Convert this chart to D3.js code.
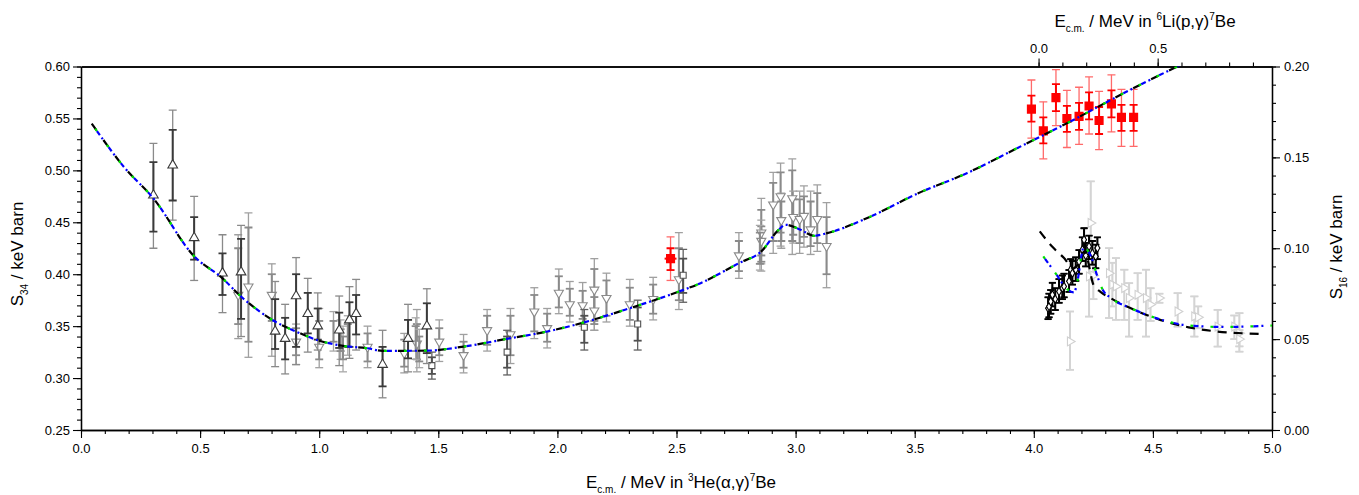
<!DOCTYPE html>
<html>
<head>
<meta charset="utf-8">
<script src="https://cdn.jsdelivr.net/npm/d3@7"></script>
<style>
  body { margin: 0; background: #fff; }
  text { font-family: "Liberation Sans", Arial, sans-serif; }
  .axis .domain { stroke: #000; stroke-width: 1.3; }
  .axis line { stroke: #000; stroke-width: 1.1; }
  .axis text { font-size: 13px; fill: #000; font-family: "Liberation Sans", Arial, sans-serif; }
</style>
</head>
<body>
<svg id="chart" width="1359" height="495"></svg>
<script>
// tick labels
const bottomTicks = [0, 0.5, 1.0, 1.5, 2.0, 2.5, 3.0, 3.5, 4.0, 4.5, 5.0];
const leftTicks = [0.25, 0.30, 0.35, 0.40, 0.45, 0.50, 0.55, 0.60];
const rightTicks = [0.00, 0.05, 0.10, 0.15, 0.20];
const topTicks = [0.0, 0.5];
const topMinorTicks = [0.0, 0.1, 0.2, 0.3, 0.4, 0.5, 0.6, 0.7, 0.8, 0.9];

// S34 data: [E, S, innerLo, innerHi, outerLo, outerHi]
const triUpPts = [
  [0.304, 0.476, 0.441, 0.508, 0.425, 0.526],
  [0.385, 0.505, 0.471, 0.539, 0.452, 0.558],
  [0.475, 0.435, 0.414, 0.455, 0.394, 0.475],
  [0.594, 0.401, 0.380, 0.420, 0.363, 0.438],
  [0.672, 0.402, 0.357, 0.434, 0.340, 0.447],
  [0.815, 0.345, 0.328, 0.376, 0.311, 0.393],
  [0.857, 0.338, 0.318, 0.358, 0.304, 0.371],
  [0.903, 0.379, 0.330, 0.400, 0.313, 0.416],
  [0.952, 0.362, 0.343, 0.382, 0.325, 0.396],
  [0.994, 0.350, 0.337, 0.367, 0.327, 0.382],
  [1.084, 0.346, 0.329, 0.363, 0.312, 0.379],
  [1.127, 0.356, 0.330, 0.373, 0.319, 0.388],
  [1.155, 0.362, 0.342, 0.380, 0.327, 0.395],
  [1.266, 0.313, 0.292, 0.330, 0.281, 0.346],
  [1.373, 0.338, 0.319, 0.356, 0.306, 0.371],
  [1.452, 0.350, 0.324, 0.372, 0.314, 0.386]
];

const triDownPts = [
  [0.660, 0.380, 0.352, 0.425, 0.338, 0.438],
  [0.703, 0.388, 0.335, 0.445, 0.320, 0.459],
  [0.801, 0.380, 0.355, 0.400, 0.321, 0.410],
  [0.903, 0.335, 0.322, 0.348, 0.313, 0.352],
  [1.000, 0.330, 0.318, 0.355, 0.310, 0.367],
  [1.203, 0.330, 0.316, 0.343, 0.310, 0.350],
  [1.357, 0.324, 0.311, 0.337, 0.305, 0.343],
  [1.410, 0.333, 0.318, 0.352, 0.306, 0.366],
  [1.504, 0.335, 0.322, 0.348, 0.316, 0.356],
  [1.606, 0.322, 0.310, 0.335, 0.305, 0.342],
  [1.705, 0.346, 0.332, 0.360, 0.326, 0.366],
  [1.803, 0.342, 0.322, 0.360, 0.314, 0.367],
  [1.903, 0.364, 0.345, 0.380, 0.338, 0.387],
  [1.957, 0.348, 0.335, 0.362, 0.329, 0.367],
  [2.006, 0.382, 0.368, 0.398, 0.362, 0.405],
  [2.052, 0.371, 0.360, 0.386, 0.354, 0.393],
  [2.106, 0.370, 0.357, 0.384, 0.350, 0.392],
  [2.155, 0.385, 0.355, 0.405, 0.346, 0.415],
  [2.155, 0.365, 0.352, 0.378, 0.346, 0.385],
  [2.206, 0.377, 0.360, 0.394, 0.354, 0.401],
  [2.304, 0.371, 0.356, 0.387, 0.350, 0.395],
  [2.402, 0.376, 0.362, 0.390, 0.356, 0.397],
  [2.510, 0.395, 0.375, 0.425, 0.366, 0.440],
  [2.762, 0.418, 0.403, 0.432, 0.396, 0.440],
  [2.856, 0.440, 0.412, 0.462, 0.403, 0.473],
  [2.856, 0.432, 0.418, 0.446, 0.410, 0.452],
  [2.906, 0.467, 0.432, 0.488, 0.420, 0.498],
  [2.937, 0.475, 0.440, 0.498, 0.427, 0.507],
  [2.940, 0.452, 0.432, 0.470, 0.425, 0.478],
  [2.986, 0.473, 0.432, 0.500, 0.419, 0.511],
  [2.990, 0.455, 0.438, 0.472, 0.430, 0.480],
  [3.017, 0.453, 0.430, 0.472, 0.420, 0.480],
  [3.035, 0.456, 0.436, 0.475, 0.426, 0.485],
  [3.063, 0.443, 0.427, 0.470, 0.419, 0.480],
  [3.091, 0.453, 0.430, 0.478, 0.422, 0.486],
  [3.130, 0.427, 0.400, 0.455, 0.387, 0.469]
];

const squarePts = [
  [1.473, 0.312, 0.304, 0.320, 0.299, 0.325],
  [1.789, 0.325, 0.310, 0.340, 0.303, 0.346],
  [2.113, 0.349, 0.334, 0.360, 0.327, 0.366],
  [2.337, 0.352, 0.336, 0.368, 0.327, 0.375],
  [2.528, 0.399, 0.382, 0.415, 0.373, 0.424]
];

const crossPts = [
  [1.060, 0.345, 0.335, 0.355, 0.326, 0.364],
  [1.090, 0.336, 0.326, 0.347, 0.318, 0.356],
  [1.100, 0.330, 0.318, 0.340, 0.306, 0.350],
  [1.120, 0.340, 0.330, 0.352, 0.322, 0.360],
  [1.405, 0.338, 0.326, 0.350, 0.318, 0.358],
  [1.420, 0.328, 0.316, 0.340, 0.310, 0.347],
  [2.850, 0.425, 0.410, 0.440, 0.404, 0.447]
];

// red points: [E, S, innerLo, innerHi, outerLo, outerHi, dE]
const redPts = [
  [2.475, 0.415, 0.404, 0.425, 0.394, 0.436, 0.025],
  [3.990, 0.559, 0.547, 0.572, 0.531, 0.587, 0.015],
  [4.040, 0.538, 0.526, 0.551, 0.511, 0.566, 0.015],
  [4.093, 0.570, 0.557, 0.583, 0.543, 0.597, 0.015],
  [4.139, 0.550, 0.537, 0.562, 0.522, 0.577, 0.015],
  [4.190, 0.552, 0.539, 0.565, 0.525, 0.580, 0.015],
  [4.232, 0.562, 0.549, 0.575, 0.535, 0.590, 0.015],
  [4.274, 0.548, 0.535, 0.561, 0.520, 0.576, 0.015],
  [4.326, 0.564, 0.551, 0.577, 0.537, 0.592, 0.015],
  [4.368, 0.551, 0.538, 0.563, 0.523, 0.578, 0.015],
  [4.419, 0.551, 0.538, 0.563, 0.523, 0.578, 0.015]
];

// S16 data (right axis): [E, S, lo, hi]
const s16Black = [
  [4.060, 0.0670, 0.061, 0.073],
  [4.064, 0.0679, 0.062, 0.075],
  [4.071, 0.0707, 0.064, 0.077],
  [4.078, 0.0744, 0.068, 0.081],
  [4.090, 0.0720, 0.066, 0.078],
  [4.106, 0.0762, 0.070, 0.083],
  [4.120, 0.0781, 0.072, 0.085],
  [4.127, 0.0790, 0.073, 0.086],
  [4.148, 0.0818, 0.076, 0.088],
  [4.155, 0.0882, 0.082, 0.094],
  [4.162, 0.0863, 0.080, 0.093],
  [4.176, 0.0882, 0.082, 0.095],
  [4.190, 0.0927, 0.086, 0.099],
  [4.204, 0.0992, 0.093, 0.106],
  [4.211, 0.1047, 0.098, 0.111],
  [4.218, 0.0960, 0.090, 0.103],
  [4.232, 0.1010, 0.094, 0.107],
  [4.246, 0.0973, 0.091, 0.104],
  [4.260, 0.0955, 0.089, 0.102],
  [4.267, 0.1001, 0.094, 0.106]
];

const s16Gray = [
  [4.152, 0.0487, 0.0331, 0.0652],
  [4.232, 0.0845, 0.0624, 0.1019],
  [4.239, 0.1139, 0.0973, 0.1368],
  [4.250, 0.0850, 0.0720, 0.1000],
  [4.316, 0.0863, 0.0616, 0.1001],
  [4.330, 0.0800, 0.0680, 0.0920],
  [4.345, 0.0790, 0.0606, 0.0946],
  [4.380, 0.0781, 0.0606, 0.0882],
  [4.400, 0.0726, 0.0514, 0.0808],
  [4.436, 0.0744, 0.0606, 0.0863],
  [4.471, 0.0726, 0.0514, 0.0882],
  [4.490, 0.0690, 0.0600, 0.0780],
  [4.527, 0.0726, 0.0700, 0.0750],
  [4.604, 0.0652, 0.0569, 0.0753],
  [4.674, 0.0625, 0.0514, 0.0735],
  [4.690, 0.0620, 0.0560, 0.0680],
  [4.772, 0.0569, 0.0459, 0.0661],
  [4.842, 0.0569, 0.0500, 0.0630],
  [4.863, 0.0533, 0.0431, 0.0643],
  [4.863, 0.0500, 0.0460, 0.0550]
];

// model curves
const s34Curve = [
  [0.045, 0.545], [0.185, 0.502], [0.304, 0.473], [0.472, 0.418], [0.594, 0.396],
  [0.672, 0.3785], [0.815, 0.3544], [0.903, 0.3448], [1.0, 0.336], [1.1, 0.331],
  [1.203, 0.3287], [1.266, 0.3262], [1.452, 0.3264], [1.606, 0.3303], [1.803, 0.3384],
  [1.957, 0.3448], [2.11, 0.3535], [2.304, 0.3673], [2.51, 0.3833], [2.601, 0.3914],
  [2.762, 0.4107], [2.856, 0.422], [2.93, 0.443], [2.958, 0.4476], [3.021, 0.4428],
  [3.077, 0.437], [3.133, 0.4396], [3.301, 0.4541], [3.511, 0.4776], [3.721, 0.4975],
  [3.932, 0.5216], [4.142, 0.5457], [4.4, 0.577], [4.62, 0.602]
];

const s16CurveA = [
  [4.025, 0.0982], [4.09, 0.0865], [4.14, 0.0775], [4.168, 0.0757], [4.185, 0.083],
  [4.2, 0.096], [4.21, 0.101], [4.225, 0.099], [4.24, 0.0955], [4.267, 0.0845],
  [4.29, 0.077], [4.324, 0.0726], [4.408, 0.067], [4.527, 0.061], [4.65, 0.0575],
  [4.8, 0.0567], [5.0, 0.0575]
];

const s16CurveB = [
  [4.025, 0.1093], [4.08, 0.1005], [4.127, 0.0946], [4.165, 0.089], [4.19, 0.092],
  [4.21, 0.098], [4.225, 0.094], [4.25, 0.080], [4.28, 0.076], [4.33, 0.072],
  [4.41, 0.0668], [4.53, 0.0606], [4.65, 0.0565], [4.77, 0.0542], [4.954, 0.0529]
];

const svg = d3.select("#chart");
const plotLeft = 81, plotRight = 1272, plotTop = 66.5, plotBottom = 430;

const x = d3.scaleLinear().domain([0, 5]).range([plotLeft, plotRight]);
const xTop = d3.scaleLinear().domain([-4.02, 0.98]).range([plotLeft, plotRight]);
const yL = d3.scaleLinear().domain([0.25, 0.60]).range([plotBottom, plotTop]);
const yR = d3.scaleLinear().domain([0, 0.20]).range([plotBottom, plotTop]);

svg.append("clipPath").attr("id", "clip")
  .append("rect").attr("x", plotLeft).attr("y", plotTop)
  .attr("width", plotRight - plotLeft).attr("height", plotBottom - plotTop);

// axes
function minor(lo, hi, step)
{
  return d3.range(Math.round((hi - lo) / step) + 1).map(i => lo + i * step);
}

svg.append("g").attr("class", "axis").attr("transform", `translate(0,${plotBottom})`)
  .call(d3.axisBottom(x).tickValues(minor(0, 5, 0.1)).tickSize(4).tickSizeOuter(0).tickFormat(""));
svg.append("g").attr("class", "axis").attr("transform", `translate(0,${plotBottom})`)
  .call(d3.axisBottom(x).tickValues(bottomTicks).tickSize(8).tickSizeOuter(0).tickFormat(d3.format(".1f")))
  .selectAll("text").attr("dy", "0.95em");

svg.append("g").attr("class", "axis").attr("transform", `translate(0,${plotTop})`)
  .call(d3.axisTop(xTop).tickValues(topMinorTicks).tickSize(4).tickSizeOuter(0).tickFormat(""));
svg.append("g").attr("class", "axis").attr("transform", `translate(0,${plotTop})`)
  .call(d3.axisTop(xTop).tickValues(topTicks).tickSize(8).tickSizeOuter(0).tickFormat(d3.format(".1f")))
  .selectAll("text").attr("dy", "-0.2em");

svg.append("g").attr("class", "axis").attr("transform", `translate(${plotLeft},0)`)
  .call(d3.axisLeft(yL).tickValues(minor(0.25, 0.60, 0.01)).tickSize(4).tickSizeOuter(0).tickFormat(""));
svg.append("g").attr("class", "axis").attr("transform", `translate(${plotLeft},0)`)
  .call(d3.axisLeft(yL).tickValues(leftTicks).tickSize(8).tickSizeOuter(0).tickFormat(d3.format(".2f")));

svg.append("g").attr("class", "axis").attr("transform", `translate(${plotRight},0)`)
  .call(d3.axisRight(yR).tickValues(minor(0, 0.20, 0.01)).tickSize(4).tickSizeOuter(0).tickFormat(""));
svg.append("g").attr("class", "axis").attr("transform", `translate(${plotRight},0)`)
  .call(d3.axisRight(yR).tickValues(rightTicks).tickSize(8).tickSizeOuter(0).tickFormat(d3.format(".2f")))
  .selectAll("text").attr("x", 12);

// axis titles with sub/superscripts
function richText(parts, xPos, yPos, rotate)
{
  const t = svg.append("text").attr("font-size", 17).attr("fill", "#000").attr("text-anchor", "middle")
    .attr("transform", `translate(${xPos},${yPos})` + (rotate ? ` rotate(${rotate})` : ""));
  parts.forEach(p =>
  {
    const span = t.append("tspan").text(p.t);
    if (p.sub)
    {
      span.attr("font-size", 10).attr("dy", 5);
    }
    else if (p.sup)
    {
      span.attr("font-size", 10).attr("dy", -7);
    }
    if (p.back)
    {
      span.attr("dy", p.back);
    }
  });
}

richText([{ t: "E" }, { t: "c.m.", sub: true }, { t: " / MeV in ", back: -5 }, { t: "3", sup: true },
  { t: "He(α,γ)", back: 7 }, { t: "7", sup: true }, { t: "Be", back: 7 }], 681, 488, 0);
richText([{ t: "E" }, { t: "c.m.", sub: true }, { t: " / MeV in ", back: -5 }, { t: "6", sup: true },
  { t: "Li(p,γ)", back: 7 }, { t: "7", sup: true }, { t: "Be", back: 7 }], 1145, 27, 0);
richText([{ t: "S" }, { t: "34", sub: true }, { t: " / keV barn", back: -5 }], 23, 254, -90);
richText([{ t: "S" }, { t: "16", sub: true }, { t: " / keV barn", back: -5 }], 1342, 247, -90);

// error bars: [E, S, innerLo, innerHi, outerLo, outerHi]
const plot = svg.append("g").attr("clip-path", "url(#clip)");

function errorBars(pts, ys, outerCol, innerCol, capW)
{
  const g = plot.append("g");
  const caps = [];
  pts.forEach(p =>
  {
    caps.push([p[0], p[4], outerCol, 1.3], [p[0], p[5], outerCol, 1.3]);
    caps.push([p[0], p[2], innerCol, 1.8], [p[0], p[3], innerCol, 1.8]);
  });
  g.selectAll(".outer").data(pts).join("line").attr("class", "outer")
    .attr("x1", d => x(d[0])).attr("x2", d => x(d[0]))
    .attr("y1", d => ys(d[4])).attr("y2", d => ys(d[5]))
    .attr("stroke", outerCol).attr("stroke-width", 1.3);
  g.selectAll(".inner").data(pts).join("line").attr("class", "inner")
    .attr("x1", d => x(d[0])).attr("x2", d => x(d[0]))
    .attr("y1", d => ys(d[2])).attr("y2", d => ys(d[3]))
    .attr("stroke", innerCol).attr("stroke-width", 2);
  g.selectAll(".cap").data(caps).join("line").attr("class", "cap")
    .attr("x1", d => x(d[0]) - capW / 2).attr("x2", d => x(d[0]) + capW / 2)
    .attr("y1", d => ys(d[1])).attr("y2", d => ys(d[1]))
    .attr("stroke", d => d[2]).attr("stroke-width", d => d[3]);
}

function symbols(pts, ys, type, size, rot, fill, stroke)
{
  plot.append("g").selectAll("path").data(pts).join("path")
    .attr("d", d3.symbol().type(type).size(size))
    .attr("transform", d => `translate(${x(d[0])},${ys(d[1])}) rotate(${rot})`)
    .attr("fill", fill).attr("stroke", stroke).attr("stroke-width", 1.1);
}

// S16 light gray data
errorBars(s16Gray.map(d => [d[0], d[1], d[2], d[3], d[2], d[3]]), yR, "#d4d4d4", "#d4d4d4", 8);
symbols(s16Gray, yR, d3.symbolTriangle, 34, 90, "#fff", "#d0d0d0");

// S34 gray data
errorBars(triDownPts, yL, "#a0a0a0", "#8a8a8a", 8);
symbols(triDownPts, yL, d3.symbolTriangle, 36, 180, "#fff", "#8a8a8a");
errorBars(crossPts, yL, "#a8a8a8", "#8a8a8a", 8);
errorBars(squarePts, yL, "#606060", "#505050", 8);
symbols(squarePts, yL, d3.symbolSquare, 36, 0, "#fff", "#505050");
errorBars(triUpPts, yL, "#8a8a8a", "#3a3a3a", 8);
symbols(triUpPts, yL, d3.symbolTriangle, 40, 0, "#fff", "#3a3a3a");

// S16 black data
plot.append("g").selectAll("line").data(s16Black).join("line")
  .attr("x1", d => x(d[0] - 0.012)).attr("x2", d => x(d[0] + 0.012))
  .attr("y1", d => yR(d[1])).attr("y2", d => yR(d[1]))
  .attr("stroke", "#000").attr("stroke-width", 1.2);
errorBars(s16Black.map(d => [d[0], d[1], d[2], d[3], d[2], d[3]]), yR, "#000", "#000", 7);
symbols(s16Black, yR, d3.symbolDiamond, 20, 0, "#fff", "#000");

// red data
plot.append("g").selectAll("line").data(redPts).join("line")
  .attr("x1", d => x(d[0] - d[6])).attr("x2", d => x(d[0] + d[6]))
  .attr("y1", d => yL(d[1])).attr("y2", d => yL(d[1]))
  .attr("stroke", "#ff0000").attr("stroke-width", 2);
errorBars(redPts, yL, "#ff6a6a", "#ff0000", 8);
symbols(redPts, yL, d3.symbolSquare, 64, 0, "#ff0000", "#ff0000");

// model curves: black dashed, green short dash, blue dash-dot, interleaved
const curveStyles = [["#000000", "8,12", 0], ["#00e000", "3,17", -6], ["#0000ff", "5,3,2,10", -9]];

function curves(data, ys, styles)
{
  const line = d3.line().x(d => x(d[0])).y(d => ys(d[1])).curve(d3.curveMonotoneX);
  styles.forEach(s =>
  {
    plot.append("path").datum(data).attr("d", line)
      .attr("fill", "none").attr("stroke", s[0]).attr("stroke-width", 2.2)
      .attr("stroke-dasharray", s[1]).attr("stroke-dashoffset", s[2]);
  });
}

curves(s34Curve, yL, curveStyles);
curves(s16CurveB, yR, [["#000000", "9,7", 0]]);
curves(s16CurveA, yR, curveStyles.slice(1));
</script>
</body>
</html>
